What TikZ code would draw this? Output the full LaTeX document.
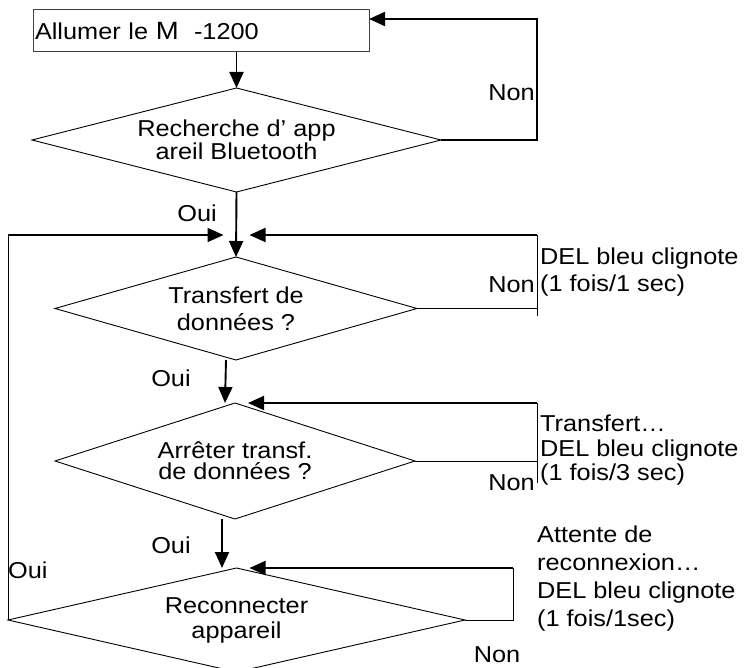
\documentclass[tikz,border=0pt]{standalone}
\usepackage{fontspec}
\setmainfont[FakeStretch=1.1]{Liberation Sans}
\usetikzlibrary{positioning,arrows.meta,shapes.geometric}

\begin{document}
\begin{tikzpicture}[x=1pt, y=-1pt, > = {Triangle[length=16pt, width=14pt]},
font=\fontsize{23}{26}\selectfont,
startbox/.style={ rectangle, draw=black!75, line width=1pt, inner xsep=2pt, inner ysep=0pt, outer sep=0pt, minimum width=336pt, minimum height=42pt, text width=332pt, align=left },
decision/.style={ diamond, draw, line width=0.9pt, inner sep=0pt, outer sep=0pt, align=center },
flow/.style={ line width=1.9pt },
plainline/.style={ line width=1pt },
answer/.style={ inner sep=0pt },
note/.style={ inner sep=0pt, align=left, anchor=west }]

\useasboundingbox (0,0) rectangle (750,668);

\node (box) [startbox] at (201,31) {Allumer le {\fontsize{25}{25}\selectfont M}~ -1200};
\node (d1) [decision, aspect=3.93, minimum width=409pt, minimum height=104pt, font=\fontsize{23}{20}\selectfont] at (236.5,140) {Recherche d’ app\\areil Bluetooth};
\node (d2) [decision, aspect=3.51, minimum width=362pt, minimum height=103pt, font=\fontsize{23}{27}\selectfont] at (236,308.5) {Transfert de\\données ?};
\node (d3) [decision, aspect=3.1, minimum width=360pt, minimum height=116pt, font=\fontsize{23}{21}\selectfont] at (235,461) {Arrêter transf.\\de données ?};
\node (d4) [decision, aspect=4.39, minimum width=457pt, minimum height=104pt, font=\fontsize{23}{25}\selectfont] at (236.5,620) {Reconnecter\\appareil};

% search loop
\draw [flow, ->] (box.south -| d1.north) -- (d1.north);
\coordinate (n1) at (537,19);
\draw [flow, ->] (d1.east) -| (n1) -- (n1 -| box.east);
\node (non1) [answer, anchor=east] at (535,93) {Non};

\coordinate (j1) at (236.5,235);
\draw [flow, ->] (d1.south) -- (d2.north);
\node (oui1) [answer] at (197,213.5) {Oui};

% back from reconnect
\draw [plainline] (d4.west) -- (d4.west |- j1);
\draw [flow, ->, shorten >=13pt] (d4.west |- j1) -- (j1);
\node (oui4) [answer, anchor=west] at (8,570) {Oui};

% transfer loop
\coordinate (c2) at (537,235);
\coordinate (b2) at (537,316);
\draw [plainline] (d2.east) -- (d2.east -| c2);
\draw [plainline] (c2) -- (b2);
\draw [flow, ->, shorten >=13pt] (c2) -- (j1);
\node (non2) [answer, anchor=east] at (535,285) {Non};
\node (txt2) [note, font=\fontsize{23}{27}\selectfont] at (540,272.5) {DEL bleu clignote\\(1 fois/1 sec)};

\draw [flow, ->] ([xshift=-10pt]d2.south) -- ([xshift=-10pt]d3.north);
\node (oui2) [answer] at (171,378.5) {Oui};

% stop loop
\coordinate (c3) at (537,403);
\coordinate (b3) at (537,483);
\draw [plainline] (d3.east) -- (d3.east -| c3);
\draw [plainline] (c3) -- (b3);
\draw [flow, ->, shorten >=13pt] (c3) -- (d3.north);
\node (non3) [answer, anchor=east] at (535,483) {Non};
\node (txt3) [note, font=\fontsize{23}{24.5}\selectfont] at (540,450.5) {Transfert…\\DEL bleu clignote\\(1 fois/3 sec)};

\draw [flow, ->] ([xshift=-13pt]d3.south) -- ([xshift=-14.5pt]d4.north);
\node (oui3) [answer] at (171,545.5) {Oui};

% reconnect loop
\coordinate (c4) at (513,568);
\draw [plainline] (d4.east) -| (c4);
\draw [flow, ->, shorten >=13pt] (c4) -- (d4.north);
\node (non4) [answer] at (497,655) {Non};
\node (txt4) [note, font=\fontsize{23}{28}\selectfont] at (537,579) {Attente de\\reconnexion…\\DEL bleu clignote\\(1 fois/1sec)};

\end{tikzpicture}
\end{document}
